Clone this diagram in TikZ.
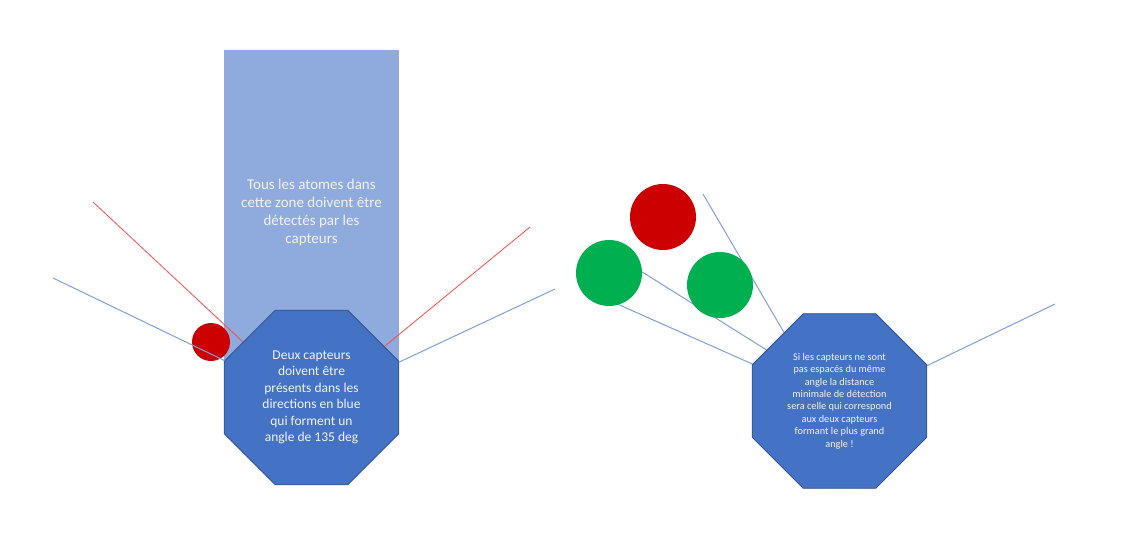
\documentclass[tikz,border=0pt]{standalone}
\usepackage{fontspec}
\setmainfont{Carlito}
\usetikzlibrary{shapes.geometric}
\definecolor{zoneblue}{HTML}{8FAADC}
\definecolor{octfill}{HTML}{4472C4}
\definecolor{octline}{HTML}{2F528F}
\definecolor{atomred}{HTML}{CC0000}
\definecolor{atomgreen}{HTML}{00B050}
\definecolor{rayred}{HTML}{FF4A4A}
\definecolor{rayblue}{HTML}{7F9FDB}
\definecolor{textwhite}{HTML}{F2F2F2}
\pgfdeclarelayer{bottom}
\pgfdeclarelayer{background}
\pgfdeclarelayer{top}
\pgfsetlayers{bottom,background,main,top}
\begin{document}
\begin{tikzpicture}[x=1pt,y=-1pt,
  octo/.style={regular polygon, regular polygon sides=8, minimum size=189pt,
    inner sep=0pt, fill=octfill, draw=octline, line width=0.8pt,
    text=textwhite, align=center},
  zonebox/.style={rectangle, fill=zoneblue, minimum width=175pt,
    minimum height=312pt, inner sep=0pt},
  zonetext/.style={text=textwhite, align=center, font=\fontsize{15}{18}\selectfont},
  atom/.style={circle, inner sep=0pt, fill=#1},
  redray/.style={draw=rayred, line width=0.8pt},
  blueray/.style={draw=rayblue, line width=1pt}]
\useasboundingbox (0,0) rectangle (1125,544);

% ---------- left figure ----------
\begin{pgfonlayer}{bottom}
\node[zonebox] (zone) at (311.5,206) {};
\end{pgfonlayer}
\node[zonetext] (zonelabel) at (311.5,212) {Tous les atomes dans\\cette zone doivent être\\détectés par les\\capteurs};

\node[octo, font=\fontsize{13.5}{16.5}\selectfont] (octL) at (311.5,397.5)
  {Deux capteurs\\doivent être\\présents dans les\\directions en blue\\qui forment un\\angle de 135 deg};

\node[atom=atomred, minimum size=38pt] (redL) at (211,342) {};

\coordinate (rl1) at (93,202);
\coordinate (rl2) at (530,227);
\coordinate (bl1) at (53,278);
\coordinate (bl2) at (555,289);

\begin{pgfonlayer}{background}
\draw[redray] (rl1) -- (octL.141);
\draw[redray] (rl2) -- (octL.35);
\end{pgfonlayer}
\begin{pgfonlayer}{top}
\draw[blueray] (bl1) -- (octL.157.5);
\draw[blueray] (bl2) -- (octL.22.5);
\end{pgfonlayer}

% ---------- right figure ----------
\node[octo, font=\fontsize{10.3}{12.4}\selectfont] (octR) at (839.5,401)
  {Si les capteurs ne sont\\pas espacés du même\\angle la distance\\minimale de détection\\sera celle qui correspond\\aux deux capteurs\\formant le plus grand\\angle !};

\node[atom=atomred, minimum size=66pt] (redR) at (663,217) {};
\node[atom=atomgreen, minimum size=66pt] (greenL) at (609,273) {};
\node[atom=atomgreen, minimum size=66pt] (greenR) at (720,285) {};

\coordinate (br1) at (703,194);
\coordinate (br2) at (1055,304);

\begin{pgfonlayer}{background}
\draw[blueray] (br1) -- (octR.129.7);
\draw[blueray] (greenL.center) ++(30,-3) -- (octR.145.6);
\draw[blueray] (greenL.center) ++(6,30) -- (octR.157.5);
\draw[blueray] (octR.22.5) -- (br2);
\end{pgfonlayer}
\end{tikzpicture}
\end{document}
